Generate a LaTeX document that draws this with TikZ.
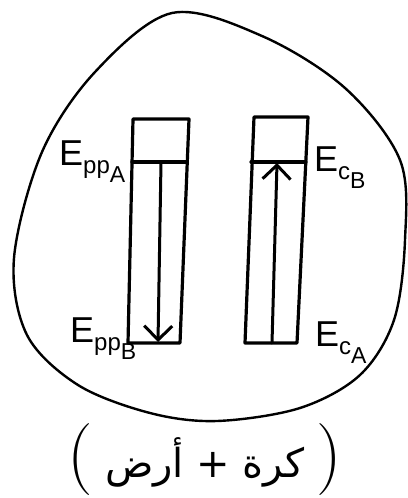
\documentclass[tikz,border=0pt]{standalone}
\usepackage{fontspec}
\setmainfont{Liberation Sans}
\newfontfamily\arabicfont[Script=Arabic]{DejaVu Sans}
\newfontfamily\lmfont{Latin Modern Roman}
\TeXXeTstate=1
\usetikzlibrary{arrows.meta}
\newcommand\elab[2]{E\raisebox{-8pt}{\fontsize{24}{24}\selectfont #1\raisebox{-9pt}{\fontsize{23}{23}\selectfont #2}}}
\begin{document}
\begin{tikzpicture}[x=1pt,y=-1pt,line join=round,line cap=round,
  outline/.style={line width=2.4pt},
  bar/.style={line width=3.2pt},
  flow/.style={line width=3pt,-{Straight Barb[length=14pt,width=28pt,line width=3pt]}},
  lbl/.style={font=\fontsize{36}{38}\selectfont,inner sep=0pt,anchor=north west}]
\useasboundingbox (0,0) rectangle (407,498);
% outer closed curve
\draw[outline] plot[smooth cycle,tension=0.55] coordinates {(172,13) (95,72) (42,152) (14,258) (27,335) (78,385) (150,413) (217,421) (300,408) (360,375) (394,320) (405,240) (400,160) (345,88) (262,36)};
% left bar
\coordinate (LA) at (161,162);
\coordinate (LB) at (158,342);
\draw[bar] (133,119) -- (189,119) -- (180,343) -- (128,343) -- cycle;
\draw[bar] (132,162) -- (187,162);
\draw[flow] (LA) -- (LB);
% right bar
\coordinate (RA) at (272,343);
\coordinate (RB) at (277,163);
\draw[bar] (254,117) -- (308,117) -- (297,343) -- (245,343) -- cycle;
\draw[bar] (251,162) -- (306,162);
\draw[flow] (RA) -- (RB);
% labels
\node[lbl] (eppa) at (59,141) {\elab{pp}{A}};
\node[lbl] (eppb) at (70,318) {\elab{pp}{B}};
\node[lbl] (ecb) at (314,147) {\elab{c}{B}};
\node[lbl] (eca) at (315,322) {\elab{c}{A}};
% caption
\node[inner sep=0pt] (cap) at (205,460) {\lmfont\fontsize{72}{72}\selectfont(\,{\arabicfont\fontsize{40}{42}\selectfont\beginR كرة + أرض\endR}\,)};
\end{tikzpicture}
\end{document}
